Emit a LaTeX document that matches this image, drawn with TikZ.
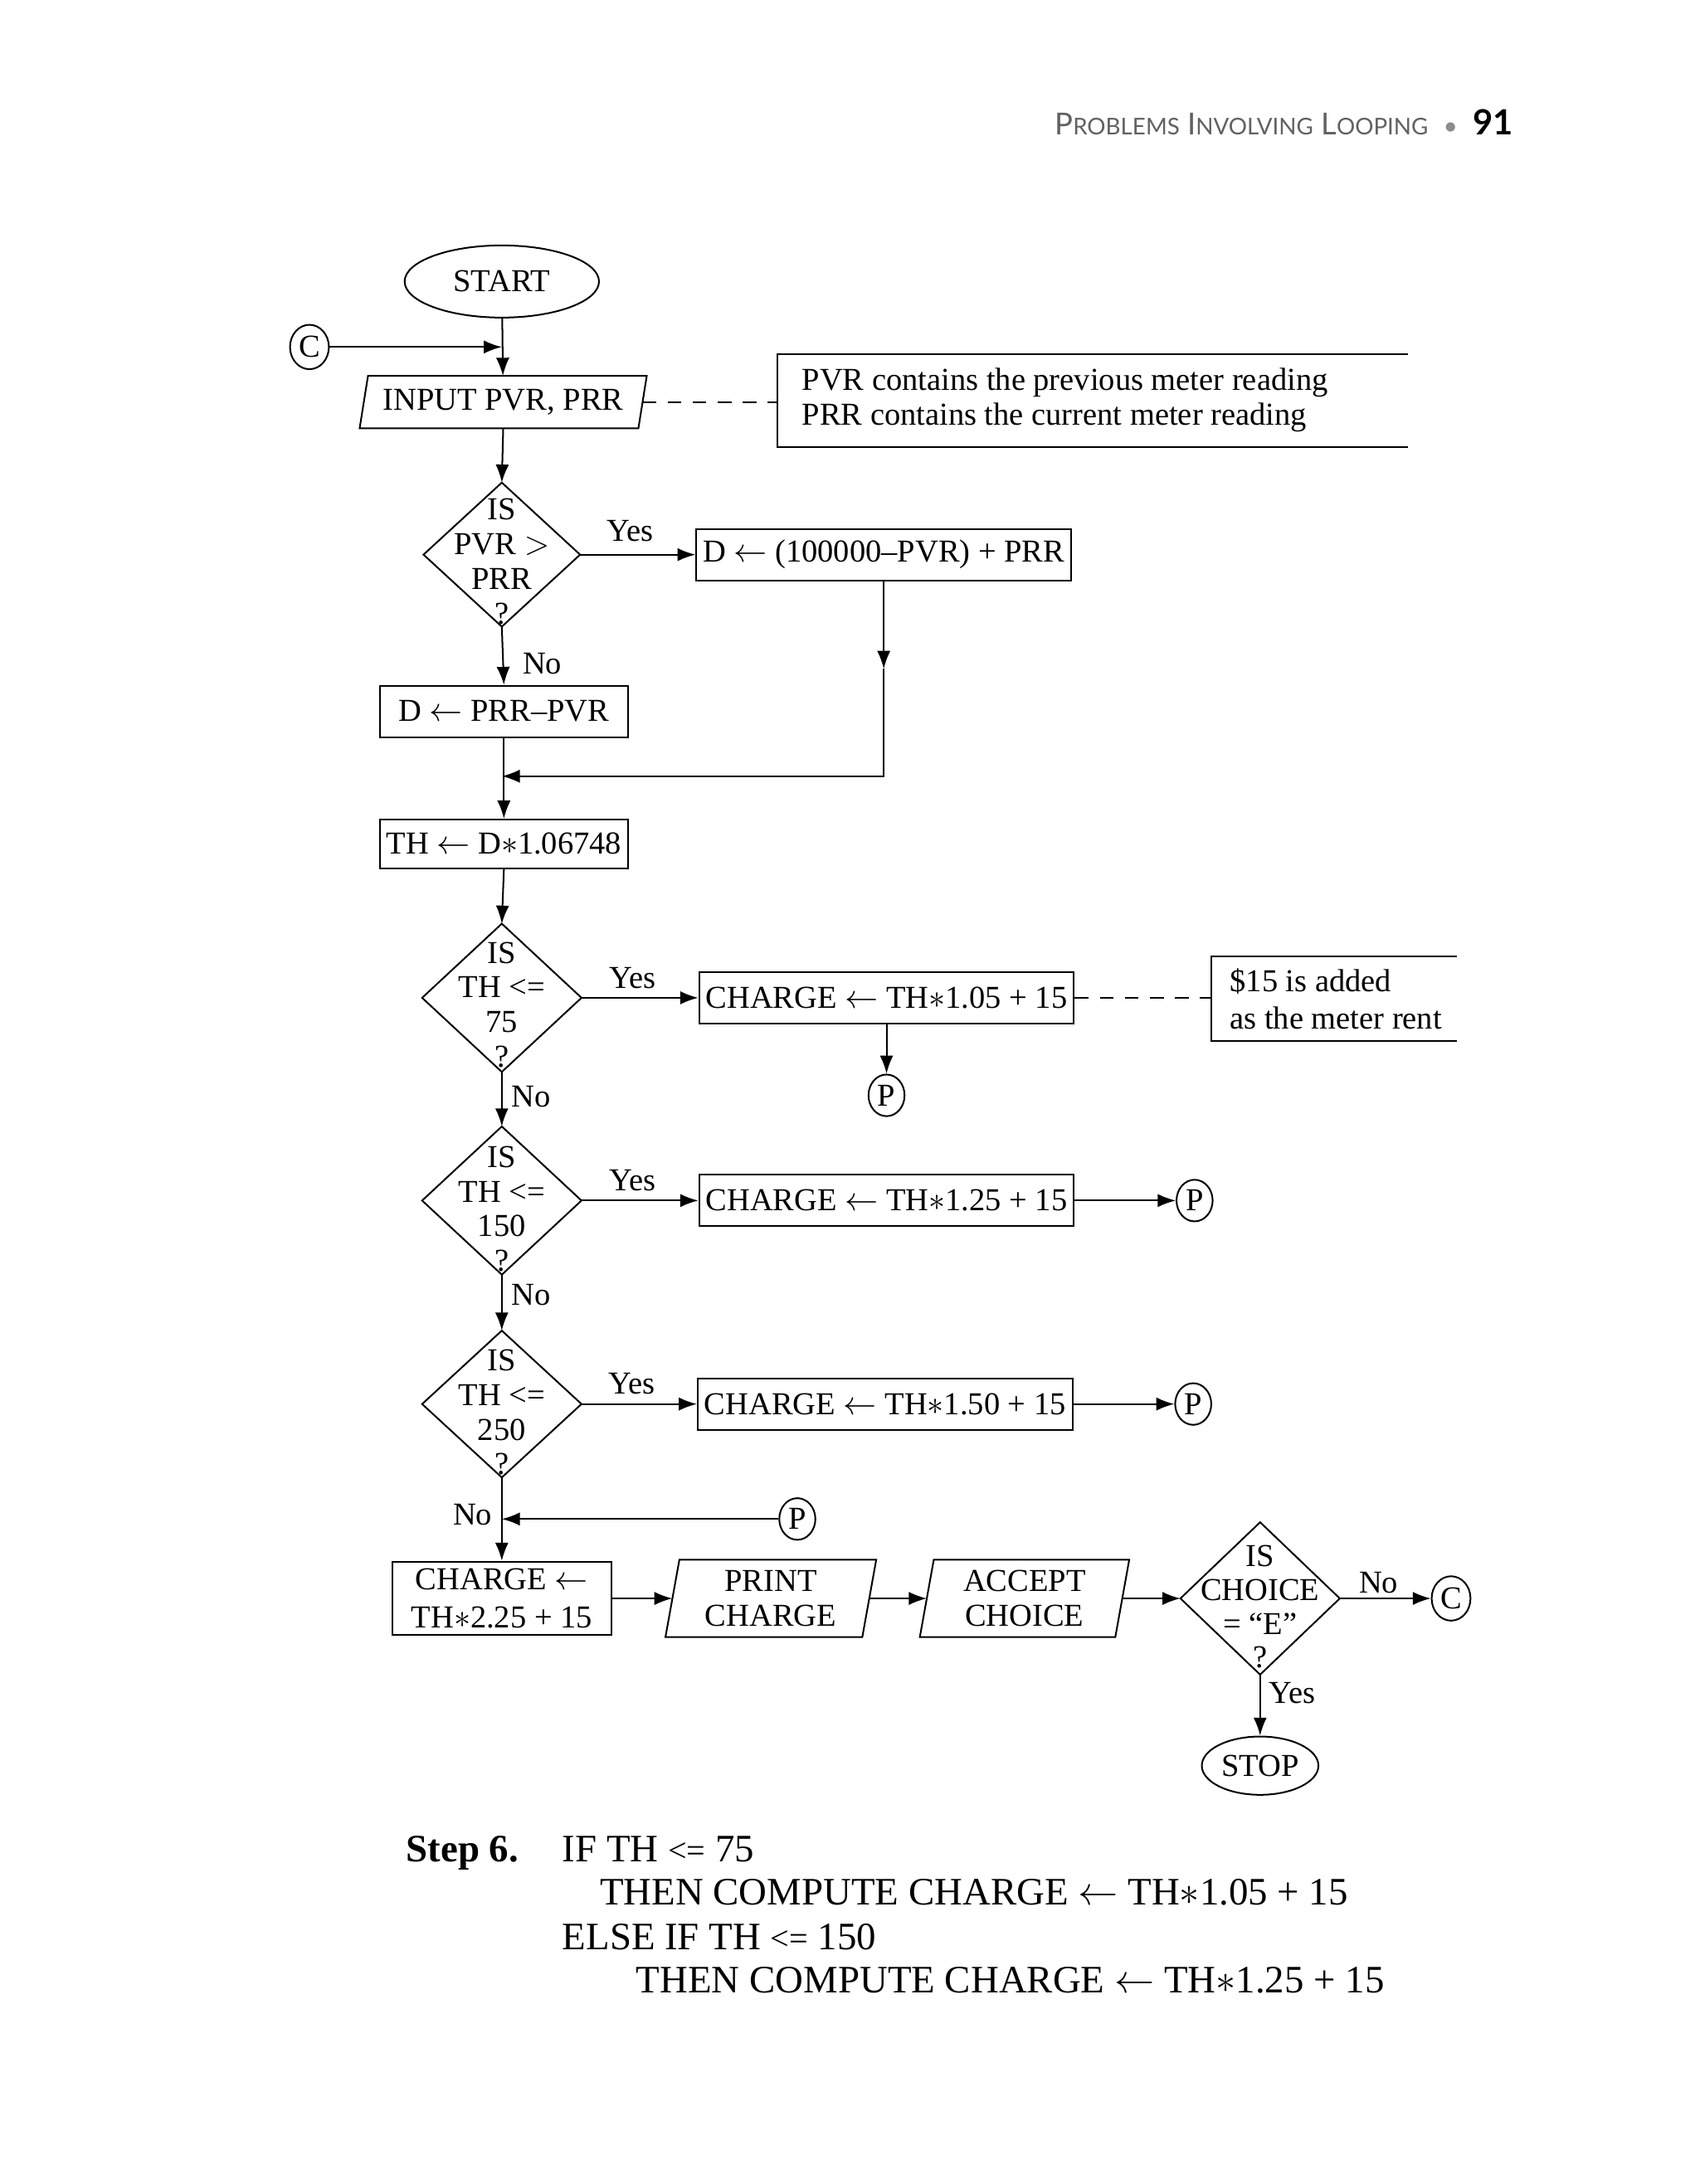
\documentclass[tikz,border=0pt]{standalone}
\usepackage{fontspec}
\setmainfont{Liberation Serif}
\newfontfamily\hdrfont{Lato}
\usetikzlibrary{arrows.meta,calc,shapes.geometric}
\tikzset{
  every node/.style={font=\fontsize{11.5}{12.5}\selectfont},
  box/.style={draw, line width=0.6pt, inner sep=0pt, align=center},
  dia/.style={inner sep=0pt},
  dtxt/.style={inner sep=0pt, align=center},
  para/.style={inner sep=0pt, align=center},
  conn/.style={draw, ellipse, line width=0.6pt, inner sep=0pt, minimum width=13pt, minimum height=15pt},
  term/.style={draw, ellipse, line width=0.6pt, inner sep=0pt},
  lbl/.style={inner sep=0pt},
  arr/.style={line width=0.6pt, -{Latex[length=6.5pt,width=4.8pt]}},
  ln/.style={line width=0.6pt},
  dsh/.style={line width=0.6pt, dash pattern=on 5pt off 4pt},
}
\begin{document}
\begin{tikzpicture}[x=0.50205pt,y=-0.50205pt]
\useasboundingbox (0,0) rectangle (1219,1567.2);
% header
\node[anchor=base east, inner sep=0pt] (hdr) at (1086,97)
  {{\hdrfont\color{black!62}\fontsize{10.9}{12}\selectfont P{\fontsize{8.3}{9}\selectfont ROBLEMS} I{\fontsize{8.3}{9}\selectfont NVOLVING} L{\fontsize{8.3}{9}\selectfont OOPING}\enspace{\color{black!45}\fontsize{9}{9}\selectfont\textbullet}\enspace}{\hdrfont\bfseries\fontsize{12.5}{13}\selectfont 91}};

% nodes
\node[term, minimum width=70pt, minimum height=26pt] (start) at (360,202) {START};
\node[conn, minimum width=14pt, minimum height=16pt] (cL) at (222,249) {C};
\coordinate (j0) at (360,249);
\node[para, minimum width=100pt, minimum height=18.5pt] (inp) at (361,288.5) {INPUT PVR, PRR};
\draw[ln] ($(inp.north west)+(3,0)$) -- ($(inp.north east)+(3,0)$) -- ($(inp.south east)+(-3,0)$) -- ($(inp.south west)+(-3,0)$) -- cycle;
\coordinate (n1) at (558,288.5);
\node[lbl, anchor=west, align=left, font=\fontsize{11.5}{12.5}\selectfont] (note1) at (575,287) {PVR contains the previous meter reading\\PRR contains the current meter reading};
\draw[ln] (1010,254) -- (558,254) -- (558,321) -- (1010,321);

\node[dia, minimum width=56pt, minimum height=51.5pt] (d1) at (360,398) {};
\node[dtxt] (d1t) at ($(d1)+(0,5)$) {IS\\PVR $>$\\PRR\\?};
\draw[ln] (d1.north) -- (d1.east) -- (d1.south) -- (d1.west) -- cycle;
\node[box, minimum width=135pt, minimum height=18.5pt] (b1) at (634,398) {D $\leftarrow$ (100000–PVR) + PRR};
\coordinate (m1) at (634,480);
\coordinate (k1) at (634,557);
\coordinate (j1) at (360,557);
\node[box, minimum width=89.5pt, minimum height=18.5pt] (b2) at (361.5,510.5) {D $\leftarrow$ PRR–PVR};
\node[box, minimum width=89.5pt, minimum height=17.5pt] (b3) at (361.5,605.5) {TH $\leftarrow$ D$*$1.06748};

\node[dia, minimum width=57pt, minimum height=53pt] (d2) at (360,716) {};
\node[dtxt] (d2t) at ($(d2)+(0,5)$) {IS\\TH <=\\75\\?};
\draw[ln] (d2.north) -- (d2.east) -- (d2.south) -- (d2.west) -- cycle;
\node[box, minimum width=135pt, minimum height=18.5pt] (c1) at (636,716) {CHARGE $\leftarrow$ TH$*$1.05 + 15};
\coordinate (n2) at (869,716);
\node[lbl, anchor=west, align=left, font=\fontsize{11.5}{13.5}\selectfont] (note2) at (882,717) {\$15 is added\\as the meter rent};
\draw[ln] (1045,686) -- (869,686) -- (869,747) -- (1045,747);
\node[conn] (p1) at (636,786) {P};

\node[dia, minimum width=57pt, minimum height=53pt] (d3) at (360,861.5) {};
\node[dtxt] (d3t) at ($(d3)+(0,6)$) {IS\\TH <=\\150\\?};
\draw[ln] (d3.north) -- (d3.east) -- (d3.south) -- (d3.west) -- cycle;
\node[box, minimum width=135pt, minimum height=18.5pt] (c2) at (636,861.5) {CHARGE $\leftarrow$ TH$*$1.25 + 15};
\node[conn] (p2) at (857,861.5) {P};

\node[dia, minimum width=57pt, minimum height=52.5pt] (d4) at (360,1007.5) {};
\node[dtxt] (d4t) at ($(d4)+(0,6)$) {IS\\TH <=\\250\\?};
\draw[ln] (d4.north) -- (d4.east) -- (d4.south) -- (d4.west) -- cycle;
\node[box, minimum width=135pt, minimum height=18.5pt] (c3) at (635,1007.5) {CHARGE $\leftarrow$ TH$*$1.50 + 15};
\node[conn] (p3) at (856,1007.5) {P};

\node[conn] (p4) at (572,1090) {P};
\coordinate (j2) at (360,1090);
\node[box, minimum width=79pt, minimum height=26.5pt, font=\fontsize{11.5}{13.5}\selectfont] (c4) at (360,1147) {CHARGE $\leftarrow$\\TH$*$2.25 + 15};
\node[para, minimum width=70.5pt, minimum height=27.5pt] (pr) at (553,1147) {PRINT\\CHARGE};
\draw[ln] ($(pr.north west)+(5,0)$) -- ($(pr.north east)+(5,0)$) -- ($(pr.south east)+(-5,0)$) -- ($(pr.south west)+(-5,0)$) -- cycle;
\node[para, minimum width=70pt, minimum height=27.5pt] (ac) at (735,1147) {ACCEPT\\CHOICE};
\draw[ln] ($(ac.north west)+(5,0)$) -- ($(ac.north east)+(5,0)$) -- ($(ac.south east)+(-5,0)$) -- ($(ac.south west)+(-5,0)$) -- cycle;
\node[dia, minimum width=57pt, minimum height=54.5pt] (d5) at (904,1147) {};
\node[dtxt, font=\fontsize{11.5}{12.2}\selectfont] (d5t) at ($(d5)+(0,6)$) {IS\\CHOICE\\= “E”\\?};
\draw[ln] (d5.north) -- (d5.east) -- (d5.south) -- (d5.west) -- cycle;
\node[conn, minimum width=14pt, minimum height=16pt] (cR) at (1041,1147) {C};
\node[term, minimum width=42pt, minimum height=21pt] (stop) at (904,1267) {STOP};

% connectors
\draw[arr] (cL) -- (j0);
\draw[arr] (start) -- (inp);
\draw[dsh] (inp.east) -- (n1);
\draw[arr] (inp.south) -- (d1.north);
\draw[arr] (d1.east) -- (b1.west);
\draw[arr] (b1.south) -- (m1);
\draw[arr] (m1) -- (k1) -- (j1);
\draw[arr] (d1.south) -- (b2.north);
\draw[arr] (b2.south) -- (b3.north);
\draw[arr] (b3.south) -- (d2.north);
\draw[arr] (d2.east) -- (c1.west);
\draw[dsh] (c1.east) -- (n2);
\draw[arr] (c1.south) -- (p1.north);
\draw[arr] (d2.south) -- (d3.north);
\draw[arr] (d3.east) -- (c2.west);
\draw[arr] (c2.east) -- (p2.west);
\draw[arr] (d3.south) -- (d4.north);
\draw[arr] (d4.east) -- (c3.west);
\draw[arr] (c3.east) -- (p3.west);
\draw[arr] (d4.south) -- (c4.north);
\draw[arr] (p4.west) -- (j2);
\draw[arr] (c4.east) -- (pr.west);
\draw[arr] (pr.east) -- (ac.west);
\draw[arr] (ac.east) -- (d5.west);
\draw[arr] (d5.east) -- (cR.west);
\draw[arr] (d5.south) -- (stop.north);

% labels
\node[lbl] (y1) at (452,381) {Yes};
\node[lbl] (no1) at (389,476) {No};
\node[lbl] (y2) at (454,702) {Yes};
\node[lbl] (no2) at (381,787) {No};
\node[lbl] (y3) at (454,847) {Yes};
\node[lbl] (no3) at (381,929) {No};
\node[lbl] (y4) at (453,993) {Yes};
\node[lbl] (no4) at (339,1087) {No};
\node[lbl] (no5) at (989,1136) {No};
\node[lbl] (y5) at (927,1215) {Yes};

% step text
\begin{scope}[every node/.style={font=\fontsize{14}{14}\selectfont, inner sep=0pt, anchor=base west}]
\node (st) at (291,1336) {\bfseries Step 6.};
\node (s1) at (403,1336) {IF TH {\fontsize{12}{12}\selectfont <=} 75};
\node (s2) at (430,1367) {THEN COMPUTE CHARGE $\leftarrow$ TH$*$1.05 + 15};
\node (s3) at (403,1399) {ELSE IF TH {\fontsize{12}{12}\selectfont <=} 150};
\node (s4) at (456,1430) {THEN COMPUTE CHARGE $\leftarrow$ TH$*$1.25 + 15};
\end{scope}
\end{tikzpicture}
\end{document}
